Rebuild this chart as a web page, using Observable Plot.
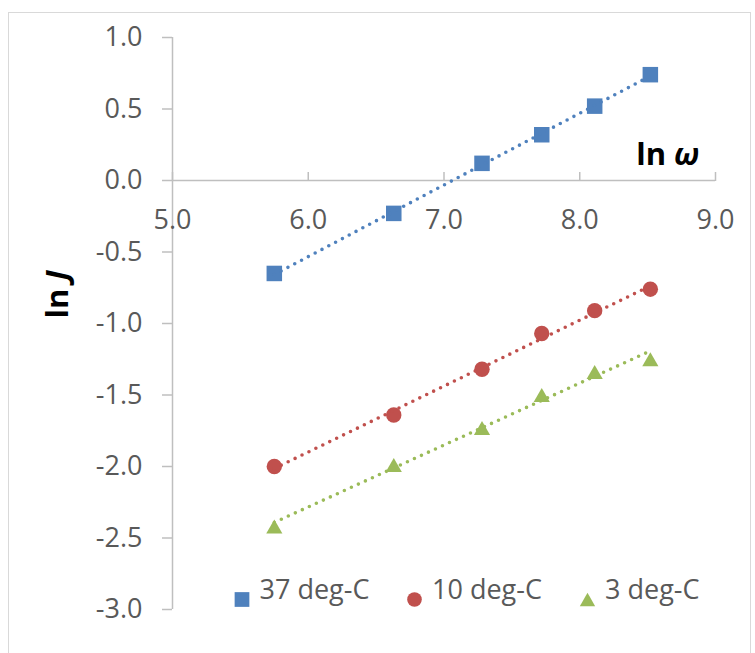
<!DOCTYPE html>
<html>
<head>
<meta charset="utf-8">
<script src="https://cdn.jsdelivr.net/npm/d3@7"></script>
<script src="https://cdn.jsdelivr.net/npm/@observablehq/plot@0.6"></script>
<style>
  html, body { margin: 0; padding: 0; background: #fff; overflow: hidden; }
  #wrap { position: relative; width: 755px; height: 653px; }
  #border { position: absolute; left: 8px; top: 12px; width: 743px; height: 700px; border: 1px solid #D9D9D9; box-sizing: border-box; pointer-events: none; }
  #chart { position: absolute; left: 0; top: 0; }
</style>
</head>
<body>
<div id="wrap"><div id="border"></div><div id="chart"></div></div>
<script>
// ln(angular frequency) at which the current density was measured
const lnOmega = [5.75, 6.63, 7.28, 7.72, 8.11, 8.52];

// ln(current density) for each temperature
const lnJ37 = [-0.65, -0.23, 0.12, 0.32, 0.52, 0.74];
const lnJ10 = [-2.00, -1.64, -1.32, -1.07, -0.91, -0.76];
const lnJ3  = [-2.42, -1.99, -1.73, -1.50, -1.34, -1.25];

const seriesNames = ["37 deg-C", "10 deg-C", "3 deg-C"];
const seriesValues = [lnJ37, lnJ10, lnJ3];

const xTicks = [5, 6, 7, 8, 9];
const yTicks = [-3, -2.5, -2, -1.5, -1, -0.5, 0, 0.5, 1];

// styling per series
const colors = ["#4F81BD", "#C0504D", "#9BBB59"];

// triangle centred on its bounding box rather than its centroid
const triangleBox = {
  draw(ctx, size) {
    const s = Math.sqrt(size * 4 / Math.sqrt(3));
    const h = s * Math.sqrt(3) / 2;
    ctx.moveTo(0, -h / 2);
    ctx.lineTo(s / 2, h / 2);
    ctx.lineTo(-s / 2, h / 2);
    ctx.closePath();
  }
};
const symbols = ["square", "circle", triangleBox];
const radii = [8.75, 7.7, 6.0];

const axisColor = "#BFBFBF";
const labelColor = "#595959";
const fontSize = 27;
const titleSize = 31;

const series = seriesNames.map((name, k) => ({
  name,
  rows: lnOmega.map((x, i) => ({x, y: seriesValues[k][i]}))
}));

const marks = [
  // axis lines: horizontal through y = 0, vertical at x = 5
  Plot.ruleY([0], {stroke: axisColor, strokeWidth: 1.5}),
  Plot.ruleX([5], {stroke: axisColor, strokeWidth: 1.5}),
  Plot.axisY({
    ticks: yTicks, tickSize: 10, tickPadding: 20, label: null,
    tickFormat: d => d.toFixed(1),
    stroke: axisColor, strokeWidth: 1.5, fill: labelColor, fontSize
  }),
  // x ticks sit on the zero line, pointing up
  Plot.axisX({
    anchor: "top", dy: 143, ticks: xTicks, tickSize: 9, label: null,
    tickFormat: () => "", stroke: axisColor, strokeWidth: 1.5
  }),
  // x tick labels just below the zero line
  Plot.axisX({
    anchor: "bottom", dy: -429, ticks: xTicks, tickSize: 0, tickPadding: 29, label: null,
    tickFormat: d => d.toFixed(1), fill: labelColor, fontSize
  })
];

series.forEach((s, k) => {
  marks.push(Plot.dot(s.rows, {x: "x", y: "y", symbol: symbols[k], r: radii[k], fill: colors[k]}));
});
series.forEach((s, k) => {
  marks.push(Plot.linearRegressionY(s.rows, {
    x: "x", y: "y", ci: 0, stroke: colors[k], strokeWidth: 3.6,
    strokeDasharray: "0 7.7", strokeLinecap: "round"
  }));
});

// legend along the bottom of the plot area
const legendMarkerDx = [69.5, 242, 415];
series.forEach((s, k) => {
  marks.push(Plot.dot([s.name], {
    frameAnchor: "bottom-left", dx: legendMarkerDx[k], dy: -10,
    symbol: symbols[k], r: radii[k] * 0.95, fill: colors[k]
  }));
  marks.push(Plot.text([s.name], {
    frameAnchor: "bottom-left", dx: legendMarkerDx[k] + 17.5, dy: -11,
    text: d => d, textAnchor: "start", fill: labelColor, fontSize
  }));
});

// axis titles
marks.push(Plot.text(["ln ω"], {
  frameAnchor: "top-right", dx: -16, dy: 105, text: d => d, textAnchor: "end",
  fill: "#000", fontSize: titleSize, fontWeight: "bold", className: "xtitle"
}));
marks.push(Plot.text(["ln J"], {
  frameAnchor: "left", dx: -114, dy: -5, rotate: -90, text: d => d,
  fill: "#000", fontSize: titleSize, fontWeight: "bold", className: "ytitle"
}));

const chart = Plot.plot({
  width: 755,
  height: 653,
  marginLeft: 172,
  marginRight: 40,
  marginTop: 37,
  marginBottom: 44,
  x: {domain: [5, 9]},
  y: {domain: [-3, 1]},
  style: {fontFamily: "'Open Sans', sans-serif", background: "transparent", overflow: "visible"},
  marks
});

// italic variable symbols in the axis titles
function italicizeLast(selector, head, tail) {
  const t = d3.select(chart).select(selector + " text");
  t.text(null);
  t.append("tspan").text(head);
  t.append("tspan").attr("font-style", "italic").text(tail);
}
italicizeLast(".xtitle", "ln ", "ω");
italicizeLast(".ytitle", "ln ", "J");

document.getElementById("chart").appendChild(chart);
</script>
</body>
</html>
